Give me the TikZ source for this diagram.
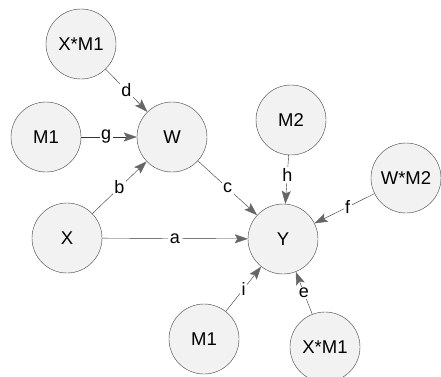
\documentclass[tikz,border=0pt]{standalone}
\usepackage{fontspec}
\setmainfont{Liberation Sans}
\usetikzlibrary{arrows.meta}
\begin{document}
\begin{tikzpicture}[x=1pt,y=-1pt,var/.style={shape=circle,draw=black!75,fill=black!5,minimum size=70pt,inner sep=0pt,font=\fontsize{18.5}{22}\selectfont},coef/.style={fill=white,inner sep=1.5pt,font=\fontsize{18}{21}\selectfont},eff/.style={draw=black!80,-{Stealth[length=13pt,width=9pt,inset=2.5pt,color=black!60]}}]
\useasboundingbox (0,0) rectangle (441,376);

\node[var] (XMa) at (81,44) {X*M1};
\node[var] (Ma) at (46,137) {M1};
\node[var] (W) at (172,137) {W};
\node[var] (X) at (67,238) {X};
\node[var] (M2) at (291,120) {M2};
\node[var] (WM2) at (406,178) {W*M2};
\node[var] (Y) at (283,239) {Y};
\node[var] (Mb) at (204,339) {M1};
\node[var] (XMb) at (325,347) {X*M1};

\draw[eff] (XMa) -- node[coef] {d} (W);
\draw[eff] (Ma) -- node[coef,pos=0.45] {g} (W);
\draw[eff] (X) -- node[coef] {b} (W);
\draw[eff] (W) -- node[coef] {c} (Y);
\draw[eff] (X) -- node[coef] {a} (Y);
\draw[eff] (M2) -- node[coef,pos=0.4] {h} (Y);
\draw[eff] (WM2) -- node[coef,pos=0.45] {f} (Y);
\draw[eff] (Mb) -- node[coef] {i} (Y);
\draw[eff] (XMb) -- node[coef] {e} (Y);
\end{tikzpicture}
\end{document}
